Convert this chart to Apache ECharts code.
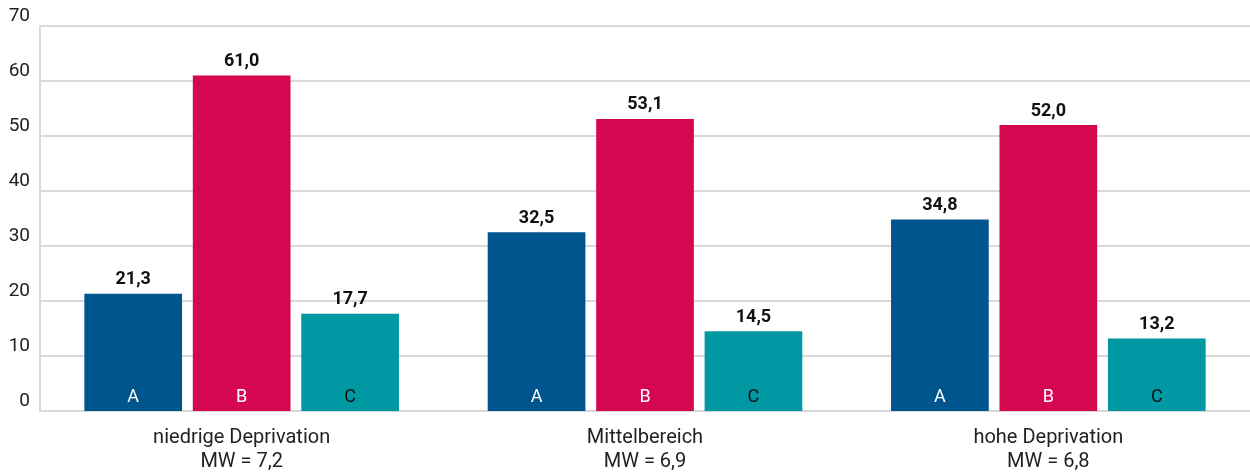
<!DOCTYPE html>
<html>
<head>
<meta charset="utf-8">
<script src="https://cdn.jsdelivr.net/npm/echarts@6/dist/echarts.min.js"></script>
<style>
  html, body { margin: 0; padding: 0; background: #fff; }
  #chart { width: 1250px; height: 474px; }
</style>
</head>
<body>
<div id="chart"></div>
<script>
// Daten
let categories = ['niedrige Deprivation\nMW = 7,2', 'Mittelbereich\nMW = 6,9', 'hohe Deprivation\nMW = 6,8'];
let seriesNames = ['A', 'B', 'C'];
let valuesA = [21.3, 32.5, 34.8];
let valuesB = [61.0, 53.1, 52.0];
let valuesC = [17.7, 14.5, 13.2];
let colors = ['#00558f', '#d50751', '#0098a3'];
let innerColors = ['#ffffff', '#ffffff', '#111111'];

let font = 'Roboto, "DejaVu Sans", sans-serif';

function fmt(v) {
    return v.toFixed(1).replace('.', ',');
}

let allValues = [valuesA, valuesB, valuesC];
let series = [];

// sichtbare Balken mit Wert oben
seriesNames.forEach((n, i) => {
    series.push({
        name: n,
        type: 'bar',
        data: allValues[i],
        barGap: '11%',
        barCategoryGap: '22%',
        itemStyle: { color: colors[i] },
        label: {
            show: true,
            position: 'top',
            distance: 5,
            formatter: (p) => fmt(p.value),
            fontFamily: font,
            fontWeight: 'bold',
            fontSize: 18,
            color: '#111'
        }
    });
});

// transparente Kopie auf zweiter x-Achse fuer den Buchstaben unten im Balken
seriesNames.forEach((n, i) => {
    series.push({
        name: n + '_inner',
        type: 'bar',
        xAxisIndex: 1,
        data: allValues[i],
        barGap: '11%',
        barCategoryGap: '22%',
        itemStyle: { color: 'transparent' },
        silent: true,
        label: {
            show: true,
            position: 'insideBottom',
            distance: 5,
            formatter: n,
            fontFamily: font,
            fontSize: 18,
            color: innerColors[i]
        }
    });
});

let chart = echarts.init(document.getElementById('chart'));
chart.setOption({
    animation: false,
    grid: { left: 40, right: 0, top: 26, bottom: 63, containLabel: false },
    xAxis: [{
        type: 'category',
        data: categories,
        axisLine: { show: true, lineStyle: { color: '#d9d9d9', width: 2 } },
        axisTick: { show: false },
        axisLabel: {
            fontFamily: font,
            fontSize: 20,
            color: '#222',
            lineHeight: 24,
            margin: 15
        }
    }, {
        type: 'category',
        data: categories,
        show: false
    }],
    yAxis: {
        type: 'value',
        min: 0,
        max: 70,
        interval: 10,
        axisLine: { show: true, lineStyle: { color: '#d9d9d9', width: 2 } },
        axisTick: { show: false },
        splitLine: { lineStyle: { color: '#d9d9d9', width: 2 } },
        axisLabel: {
            fontFamily: font,
            fontSize: 19,
            color: '#222',
            margin: 10,
            verticalAlign: 'bottom'
        }
    },
    series: series
});
</script>
</body>
</html>
